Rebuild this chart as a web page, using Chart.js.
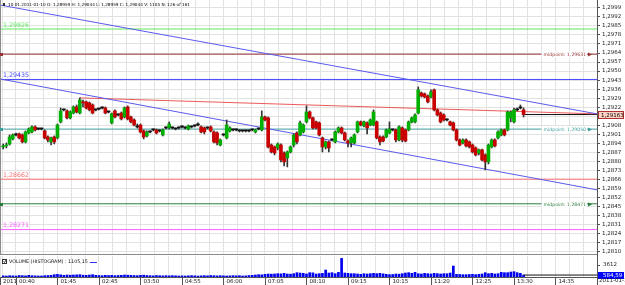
<!DOCTYPE html>
<html>
<head>
<meta charset="utf-8">
<script src="https://cdn.jsdelivr.net/npm/chart.js@4.4.1/dist/chart.umd.min.js"></script>
<style>
  html, body { margin: 0; padding: 0; background: #fff; }
  #quadro { position: relative; width: 625px; height: 285px; overflow: hidden; }
  #precos { position: absolute; left: 0; top: 0; }
  #volume { position: absolute; left: 0; top: 255px; }
</style>
</head>
<body>
<div id="quadro">
  <canvas id="precos" width="625" height="255"></canvas>
  <canvas id="volume" width="625" height="30"></canvas>
</div>
<script>
// velas de 5 minutos (uma por barra)
const aberturas = [
  1.28912, 1.28920, 1.28935, 1.28974, 1.29005, 1.29013, 1.29005, 1.28951, 1.29020, 1.29028,
  1.29067, 1.29051, 1.29051, 1.29036, 1.28989, 1.28951, 1.28989, 1.28982, 1.29106, 1.29199,
  1.29191, 1.29137, 1.29175, 1.29222, 1.29175, 1.29261, 1.29261, 1.29253, 1.29237, 1.29199,
  1.29206, 1.29214, 1.29214, 1.29183, 1.29098, 1.29191, 1.29160, 1.29175, 1.29144, 1.29222,
  1.29144, 1.29121, 1.29067, 1.29082, 1.29036, 1.28997, 1.29028, 1.29044, 1.29044, 1.29036,
  1.29005, 1.29059, 1.29059, 1.29059, 1.29051, 1.29059, 1.29067, 1.29059, 1.29051, 1.29067,
  1.29075, 1.29082, 1.29067, 1.29059, 1.29059, 1.29067, 1.29028, 1.29020, 1.28927, 1.29005,
  1.28982, 1.29036, 1.29044, 1.29044, 1.29036, 1.29036, 1.29036, 1.29036, 1.29044, 1.29028,
  1.29051, 1.29044, 1.29144, 1.29137, 1.28927, 1.28912, 1.28904, 1.28927, 1.28865, 1.28827,
  1.28873, 1.28927, 1.29020, 1.29005, 1.29028, 1.29106, 1.29183, 1.29137, 1.29106, 1.29098,
  1.28982, 1.28912, 1.28951, 1.28966, 1.28951, 1.29028, 1.29059, 1.29020, 1.28958, 1.28943,
  1.28943, 1.29028, 1.29106, 1.29075, 1.29098, 1.29082, 1.29082, 1.29106, 1.28989, 1.28989,
  1.28989, 1.29020, 1.29044, 1.29044, 1.28966, 1.29059, 1.29044, 1.29044, 1.29106, 1.29106,
  1.29175, 1.29330, 1.29323, 1.29307, 1.29299, 1.29354, 1.29199, 1.29175, 1.29160, 1.29121,
  1.29106, 1.29098, 1.29044, 1.28966, 1.28943, 1.28966, 1.28951, 1.28927, 1.28904, 1.28865,
  1.28889, 1.28850, 1.28796, 1.28912, 1.28966, 1.28982, 1.29005, 1.29044, 1.29044, 1.29137,
  1.29106, 1.29199, 1.29214, 1.29199
];
const maximas = [
  1.28935, 1.28943, 1.29005, 1.29013, 1.29020, 1.29020, 1.29013, 1.29036, 1.29059, 1.29075,
  1.29075, 1.29059, 1.29059, 1.29044, 1.28997, 1.28989, 1.28997, 1.29090, 1.29214, 1.29206,
  1.29199, 1.29191, 1.29230, 1.29237, 1.29292, 1.29276, 1.29268, 1.29261, 1.29245, 1.29206,
  1.29214, 1.29222, 1.29222, 1.29191, 1.29175, 1.29199, 1.29168, 1.29183, 1.29222, 1.29230,
  1.29152, 1.29129, 1.29090, 1.29090, 1.29044, 1.29036, 1.29036, 1.29051, 1.29051, 1.29044,
  1.29051, 1.29067, 1.29106, 1.29067, 1.29059, 1.29067, 1.29075, 1.29067, 1.29082, 1.29075,
  1.29082, 1.29098, 1.29075, 1.29067, 1.29067, 1.29075, 1.29036, 1.29028, 1.28974, 1.29013,
  1.29121, 1.29067, 1.29051, 1.29051, 1.29044, 1.29044, 1.29044, 1.29044, 1.29051, 1.29051,
  1.29059, 1.29191, 1.29152, 1.29144, 1.28935, 1.28920, 1.28943, 1.28935, 1.28873, 1.28881,
  1.28920, 1.29013, 1.29028, 1.29113, 1.29090, 1.29230, 1.29191, 1.29144, 1.29113, 1.29106,
  1.28989, 1.28958, 1.28958, 1.28974, 1.29036, 1.29067, 1.29067, 1.29028, 1.28966, 1.28989,
  1.29013, 1.29113, 1.29113, 1.29113, 1.29106, 1.29129, 1.29199, 1.29113, 1.28997, 1.28997,
  1.29051, 1.29106, 1.29051, 1.29051, 1.29075, 1.29067, 1.29051, 1.29113, 1.29144, 1.29168,
  1.29377, 1.29338, 1.29330, 1.29315, 1.29354, 1.29361, 1.29206, 1.29183, 1.29168, 1.29129,
  1.29113, 1.29106, 1.29051, 1.28974, 1.28974, 1.28974, 1.28958, 1.28935, 1.28912, 1.28896,
  1.28896, 1.28858, 1.28935, 1.28974, 1.28974, 1.29036, 1.29051, 1.29051, 1.29191, 1.29191,
  1.29214, 1.29214, 1.29237, 1.29214
];
const minimas = [
  1.28896, 1.28904, 1.28927, 1.28966, 1.28997, 1.28974, 1.28943, 1.28943, 1.29013, 1.29020,
  1.29036, 1.29044, 1.29044, 1.28974, 1.28951, 1.28927, 1.28935, 1.28974, 1.29098, 1.29191,
  1.29129, 1.29129, 1.29168, 1.29175, 1.29168, 1.29222, 1.29206, 1.29191, 1.29168, 1.29191,
  1.29199, 1.29206, 1.29168, 1.29175, 1.29090, 1.29137, 1.29152, 1.29121, 1.29137, 1.29121,
  1.29098, 1.29075, 1.29059, 1.29020, 1.28974, 1.28989, 1.29020, 1.29036, 1.29013, 1.29028,
  1.28997, 1.29051, 1.29051, 1.29051, 1.29044, 1.29051, 1.29059, 1.29051, 1.29044, 1.29059,
  1.29067, 1.29075, 1.29020, 1.29013, 1.29051, 1.29028, 1.28943, 1.28927, 1.28920, 1.28997,
  1.28974, 1.29028, 1.29036, 1.29036, 1.29028, 1.29028, 1.29028, 1.29028, 1.29036, 1.29020,
  1.29044, 1.29036, 1.29113, 1.28904, 1.28865, 1.28850, 1.28889, 1.28796, 1.28765, 1.28757,
  1.28865, 1.28912, 1.28935, 1.28997, 1.29020, 1.29098, 1.29129, 1.29051, 1.29051, 1.28997,
  1.28873, 1.28896, 1.28873, 1.28958, 1.28943, 1.29020, 1.29013, 1.28958, 1.28912, 1.28912,
  1.28935, 1.29020, 1.29075, 1.29067, 1.29013, 1.29075, 1.29075, 1.28974, 1.28927, 1.28951,
  1.28982, 1.29013, 1.29036, 1.28951, 1.28958, 1.28951, 1.28951, 1.29036, 1.29098, 1.29098,
  1.29168, 1.29299, 1.29292, 1.29253, 1.29292, 1.29191, 1.29152, 1.29098, 1.29113, 1.29113,
  1.29075, 1.29036, 1.28958, 1.28920, 1.28935, 1.28912, 1.28904, 1.28865, 1.28842, 1.28850,
  1.28803, 1.28734, 1.28780, 1.28904, 1.28912, 1.28974, 1.28997, 1.28997, 1.29036, 1.29106,
  1.29098, 1.29191, 1.29206, 1.29144
];
const fechamentos = [
  1.28920, 1.28927, 1.28989, 1.29005, 1.29005, 1.28982, 1.28951, 1.29028, 1.29051, 1.29067,
  1.29044, 1.29051, 1.29051, 1.28982, 1.28966, 1.28982, 1.28951, 1.29082, 1.29191, 1.29199,
  1.29137, 1.29183, 1.29222, 1.29183, 1.29276, 1.29253, 1.29214, 1.29199, 1.29175, 1.29199,
  1.29206, 1.29214, 1.29175, 1.29183, 1.29168, 1.29144, 1.29160, 1.29129, 1.29214, 1.29129,
  1.29106, 1.29082, 1.29067, 1.29028, 1.28989, 1.29028, 1.29028, 1.29044, 1.29020, 1.29036,
  1.29044, 1.29059, 1.29090, 1.29059, 1.29051, 1.29059, 1.29067, 1.29059, 1.29075, 1.29067,
  1.29075, 1.29082, 1.29028, 1.29028, 1.29059, 1.29036, 1.28951, 1.28943, 1.28966, 1.29005,
  1.29082, 1.29059, 1.29044, 1.29044, 1.29036, 1.29036, 1.29036, 1.29036, 1.29044, 1.29044,
  1.29051, 1.29144, 1.29121, 1.28912, 1.28873, 1.28865, 1.28935, 1.28811, 1.28796, 1.28873,
  1.28912, 1.29005, 1.28951, 1.29098, 1.29082, 1.29183, 1.29137, 1.29059, 1.29059, 1.29005,
  1.28912, 1.28951, 1.28904, 1.28966, 1.29028, 1.29059, 1.29020, 1.28966, 1.28943, 1.28982,
  1.29005, 1.29106, 1.29082, 1.29106, 1.29059, 1.29121, 1.29183, 1.28982, 1.28951, 1.28958,
  1.29044, 1.29051, 1.29044, 1.28966, 1.29067, 1.28966, 1.28958, 1.29106, 1.29137, 1.29160,
  1.29354, 1.29307, 1.29299, 1.29261, 1.29338, 1.29199, 1.29160, 1.29106, 1.29121, 1.29121,
  1.29082, 1.29044, 1.28966, 1.28927, 1.28966, 1.28920, 1.28912, 1.28873, 1.28850, 1.28889,
  1.28811, 1.28796, 1.28927, 1.28966, 1.28920, 1.29028, 1.29044, 1.29005, 1.29183, 1.29183,
  1.29199, 1.29199, 1.29214, 1.29163
];
const volumes = [
  350, 300, 400, 350, 300, 450, 400, 350, 500, 400,
  350, 300, 300, 400, 450, 500, 700, 800, 650, 500,
  600, 550, 600, 650, 700, 550, 500, 600, 700, 500,
  450, 400, 500, 450, 500, 400, 450, 500, 600, 550,
  500, 450, 400, 500, 550, 450, 400, 350, 450, 400,
  350, 400, 350, 400, 350, 300, 350, 300, 350, 400,
  350, 300, 350, 400, 350, 450, 400, 350, 400, 350,
  300, 350, 400, 350, 400, 300, 350, 450, 500, 600,
  700, 650, 800, 900, 850, 900, 1000, 950, 1100, 900,
  850, 1000, 1300, 1200, 1100, 900, 1300, 1250, 900, 1000,
  1100, 2100, 1200, 1300, 1000, 1400, 5600, 1200, 1100, 1000,
  1000, 900, 800, 1000, 900, 1000, 1100, 1000, 1100, 950,
  800, 700, 750, 900, 850, 1000, 1200, 1300, 1100, 1400,
  1000, 900, 1100, 1000, 900, 1100, 1000, 900, 1000, 1000,
  1200, 3300, 800, 750, 700, 700, 750, 800, 700, 800,
  900, 1300, 1000, 1100, 900, 1000, 1400, 1300, 1300, 1500,
  1600, 1300, 1100, 584.59
];

const rotulosHora = ['2011', '00:40', '01:45', '02:45', '03:50', '04:55', '06:00', '07:05',
  '08:10', '09:15', '10:15', '11:20', '12:25', '13:30', '14:35'];
const barraDoRotulo = [0, 5, 18, 31, 44, 57, 70, 83, 96, 109, 122, 135, 148, 161, 174];
const ticksPreco = [1.2810, 1.2817, 1.2824, 1.2831, 1.2838, 1.2845, 1.2852, 1.2859, 1.2866, 1.2873,
  1.2880, 1.2887, 1.2894, 1.2901, 1.2908, 1.2915, 1.2922, 1.2929, 1.2936, 1.2943,
  1.2950, 1.2957, 1.2964, 1.2971, 1.2978, 1.2985, 1.2992, 1.2999];
const ticksVolume = [3612];

const niveis = [1.29826, 1.29435, 1.28662, 1.28271];
const pontosMedios = [1.29631, 1.29050, 1.28471];
// linhas de tendência: [barra, preço]
const tendenciaSuperior = [[0, 1.30012], [187, 1.29168]];
const tendenciaInferior = [[0, 1.29439], [187, 1.28579]];
const tendenciaVermelha = [[25, 1.29292], [187, 1.29168]];
const precoAtual = 1.29163;
const volumeAtual = 584.59;
const cabecalho = '10.01.2011-01-10 O: 1,28959 H: 1,29044 L: 1,28959 C: 1,29044 V: 1105 N: 126 of 161';
const tituloVolume = 'VOLUME (HISTOGRAM) : 1105,15';
const dataFinal = '2011-01-10';

// estilos
const coresNiveis = ['#5fe85f', '#4646ff', '#ff6f6f', '#ff5cff'];
const coresMedios = ['#9a3434', '#3f9e9e', '#2a7d3a'];
const FONTE = '"DejaVu Sans", sans-serif';
const GRADE = '#e2e2e2';
const EIXO = '#555';
const X_MAX = 187;

const fmt = (v, casas) => v.toFixed(casas).replace('.', ',');
const barras = aberturas.map((_, i) => i + 1);
const ultimaBarra = barras[barras.length - 1];

const linhasGrade = [];
for (let v = barraDoRotulo[1] - 13 / 3; v < X_MAX; v += 13 / 3) linhasGrade.push(v);

function segmento(pontos) {
  return pontos.map(p => ({ x: p[0], y: p[1] }));
}
function horizontal(v, de) {
  return [{ x: de, y: v }, { x: X_MAX, y: v }];
}

const corCorpo = aberturas.map((o, i) =>
  fechamentos[i] > o ? '#00b000' : fechamentos[i] < o ? '#c80000' : '#111');

const datasetsPreco = [
  {
    type: 'bar', order: 0,
    data: barras.map((x, i) => ({ x, y: [aberturas[i], fechamentos[i]] })),
    backgroundColor: corCorpo, borderColor: '#222', borderWidth: 0,
    barThickness: 3, minBarLength: 1, grouped: false
  },
  {
    type: 'bar', order: 1,
    data: barras.map((x, i) => ({ x, y: [minimas[i], maximas[i]] })),
    backgroundColor: '#333', barThickness: 1, minBarLength: 1, grouped: false
  },
  { type: 'line', order: 2, data: segmento(tendenciaSuperior), borderColor: '#5a5af0', borderWidth: 1, pointRadius: 0 },
  { type: 'line', order: 2, data: segmento(tendenciaInferior), borderColor: '#5a5af0', borderWidth: 1, pointRadius: 0 },
  { type: 'line', order: 2, data: segmento(tendenciaVermelha), borderColor: 'rgba(235,60,60,0.85)', borderWidth: 1, pointRadius: 0 },
  { type: 'line', order: 2, data: horizontal(precoAtual, ultimaBarra), borderColor: '#111', borderWidth: 1, pointRadius: 0 }
];
niveis.forEach((v, i) => datasetsPreco.push({
  type: 'line', order: 3, data: horizontal(v, 0), borderColor: coresNiveis[i], borderWidth: 1, pointRadius: 0
}));
pontosMedios.forEach((v, i) => datasetsPreco.push({
  type: 'line', order: 3, data: horizontal(v, 0), borderColor: coresMedios[i], borderWidth: 1, pointRadius: 0
}));

const anotacoesPreco = {
  id: 'anotacoesPreco',
  afterDraw(chart) {
    const { ctx, chartArea: a, scales: { y } } = chart;
    ctx.save();
    ctx.strokeStyle = '#8a8a8a';
    ctx.lineWidth = 1;
    ctx.beginPath();
    ctx.moveTo(0.5, 0); ctx.lineTo(0.5, a.bottom);
    ctx.moveTo(0, a.bottom - 0.5); ctx.lineTo(a.right, a.bottom - 0.5);
    ctx.stroke();

    // rótulos dos níveis à esquerda
    ctx.font = '6.3px ' + FONTE;
    ctx.textAlign = 'left';
    ctx.textBaseline = 'bottom';
    niveis.forEach((v, i) => {
      ctx.fillStyle = coresNiveis[i];
      ctx.fillText(fmt(v, 5), 3, y.getPixelForValue(v) - 1);
    });

    // pontos médios à direita
    ctx.font = '4.6px ' + FONTE;
    ctx.textAlign = 'right';
    ctx.textBaseline = 'middle';
    pontosMedios.forEach((v, i) => {
      const py = Math.round(y.getPixelForValue(v)) + 0.5;
      const txt = 'midpoint: ' + fmt(v, 5);
      const w = ctx.measureText(txt).width;
      ctx.fillStyle = '#fff';
      ctx.fillRect(586 - w - 2, py - 3, w + 3, 6);
      ctx.fillStyle = coresMedios[i];
      ctx.fillText(txt, 586, py);
      ctx.beginPath();
      ctx.moveTo(588, py - 2); ctx.lineTo(588, py + 2); ctx.lineTo(592, py);
      ctx.closePath();
      ctx.fill();
      ctx.fillRect(0, py - 1.5, 3, 3);
    });

    // caixa do preço atual
    const pp = Math.round(y.getPixelForValue(precoAtual));
    ctx.fillStyle = '#ffd2c4';
    ctx.fillRect(598, pp - 4, 26, 8);
    ctx.strokeStyle = '#b03030';
    ctx.strokeRect(598.5, pp - 3.5, 25, 7);
    ctx.fillStyle = '#000';
    ctx.textAlign = 'left';
    ctx.font = '5.5px ' + FONTE;
    ctx.fillText(fmt(precoAtual, 5), 601, pp + 0.5);

    // cabeçalho
    ctx.fillStyle = '#333';
    ctx.fillRect(3, 3, 2, 3);
    ctx.fillStyle = '#000';
    ctx.font = '4.2px ' + FONTE;
    ctx.textBaseline = 'middle';
    ctx.fillText(cabecalho, 8, 5);
    ctx.restore();
  }
};

new Chart(document.getElementById('precos').getContext('2d'), {
  type: 'bar',
  data: { datasets: datasetsPreco },
  options: {
    responsive: false,
    animation: false,
    devicePixelRatio: 1,
    layout: { padding: 0 },
    plugins: { legend: { display: false }, tooltip: { enabled: false } },
    scales: {
      x: {
        type: 'linear', min: 0, max: X_MAX, offset: false, bounds: 'data',
        grid: { color: GRADE, offset: false, drawTicks: false },
        border: { display: false },
        ticks: { display: false, autoSkip: false },
        afterBuildTicks: s => { s.ticks = linhasGrade.map(v => ({ value: v })); },
        afterFit: s => { s.height = 0; s.paddingLeft = 0; s.paddingRight = 0; }
      },
      y: {
        position: 'right', min: 1.28074, max: 1.30051, bounds: 'data', beginAtZero: false,
        grid: { color: GRADE, tickLength: 3, tickColor: EIXO },
        border: { color: EIXO },
        ticks: {
          autoSkip: false,
          font: { family: FONTE, size: 5.5 }, color: '#222', padding: 2,
          callback: v => fmt(v, 4)
        },
        afterBuildTicks: s => { s.ticks = ticksPreco.map(v => ({ value: v })); },
        afterFit: s => { s.width = 28; s.paddingTop = 0; s.paddingBottom = 0; }
      }
    }
  },
  plugins: [anotacoesPreco]
});

const anotacoesVolume = {
  id: 'anotacoesVolume',
  afterDraw(chart) {
    const { ctx, chartArea: a, scales: { x, y } } = chart;
    ctx.save();
    ctx.strokeStyle = EIXO;
    ctx.lineWidth = 1;
    ctx.beginPath();
    barraDoRotulo.forEach(b => {
      const px = Math.round(x.getPixelForValue(b)) + 0.5;
      ctx.moveTo(px, a.bottom); ctx.lineTo(px, 30);
    });
    ctx.moveTo(a.right + 0.5, 0); ctx.lineTo(a.right + 0.5, 30);
    ctx.stroke();

    // título do painel
    ctx.strokeStyle = '#333';
    ctx.strokeRect(2.5, 4.5, 4, 4);
    ctx.beginPath();
    ctx.moveTo(3.5, 6.5); ctx.lineTo(4.5, 7.5); ctx.lineTo(6, 5);
    ctx.stroke();
    ctx.fillStyle = '#111';
    ctx.font = '4.8px ' + FONTE;
    ctx.textAlign = 'left';
    ctx.textBaseline = 'middle';
    ctx.fillText(tituloVolume, 9, 7);
    const w = ctx.measureText(tituloVolume).width;
    ctx.strokeStyle = '#3030ff';
    ctx.beginPath();
    ctx.moveTo(9 + w + 2, 7.5); ctx.lineTo(9 + w + 9, 7.5);
    ctx.stroke();

    // volume atual
    const pv = Math.round(y.getPixelForValue(volumeAtual));
    ctx.fillStyle = '#0000ff';
    ctx.fillRect(598, pv - 3, 26, 7);
    ctx.fillStyle = '#fff';
    ctx.font = '5.5px ' + FONTE;
    ctx.fillText(fmt(volumeAtual, 2), 603, pv + 0.5);

    ctx.fillStyle = '#222';
    ctx.textBaseline = 'top';
    ctx.fillText(dataFinal, 599, a.bottom + 1);
    ctx.restore();
  }
};

new Chart(document.getElementById('volume').getContext('2d'), {
  type: 'bar',
  data: {
    datasets: [
      {
        type: 'bar', order: 1,
        data: barras.map((x, i) => ({ x, y: volumes[i] })),
        backgroundColor: '#0000f0', barThickness: 2, grouped: false
      },
      {
        type: 'line', order: 0, data: horizontal(volumeAtual, ultimaBarra),
        borderColor: '#111', borderWidth: 1, pointRadius: 0
      }
    ]
  },
  options: {
    responsive: false,
    animation: false,
    devicePixelRatio: 1,
    layout: { padding: { top: 1, left: 0, right: 0, bottom: 0 } },
    plugins: { legend: { display: false }, tooltip: { enabled: false } },
    scales: {
      x: {
        type: 'linear', min: 0, max: X_MAX, offset: false, bounds: 'data',
        grid: { color: GRADE, offset: false, drawTicks: false },
        border: { color: EIXO },
        ticks: {
          autoSkip: false, maxRotation: 0, align: 'start', labelOffset: 3, padding: 1,
          font: { family: FONTE, size: 5.5 }, color: '#222',
          callback: (v, i, ticks) => ticks[i].rotulo || ''
        },
        afterBuildTicks: s => {
          const t = linhasGrade.map(v => ({ value: v }));
          barraDoRotulo.forEach((b, i) => {
            const achado = t.find(k => Math.abs(k.value - b) < 0.01);
            if (achado) achado.rotulo = rotulosHora[i];
            else t.push({ value: b, rotulo: rotulosHora[i] });
          });
          t.sort((p, q) => p.value - q.value);
          s.ticks = t;
        },
        afterFit: s => { s.height = 8; s.paddingLeft = 0; s.paddingRight = 0; }
      },
      y: {
        position: 'right', min: 0, max: 6321, bounds: 'data', beginAtZero: false,
        grid: { drawOnChartArea: false, tickLength: 3, tickColor: EIXO },
        border: { color: EIXO },
        ticks: { autoSkip: false, font: { family: FONTE, size: 5.5 }, color: '#222', padding: 3, callback: v => String(v) },
        afterBuildTicks: s => { s.ticks = ticksVolume.map(v => ({ value: v })); },
        afterFit: s => { s.width = 28; s.paddingTop = 0; s.paddingBottom = 0; }
      }
    }
  },
  plugins: [anotacoesVolume]
});
</script>
</body>
</html>
